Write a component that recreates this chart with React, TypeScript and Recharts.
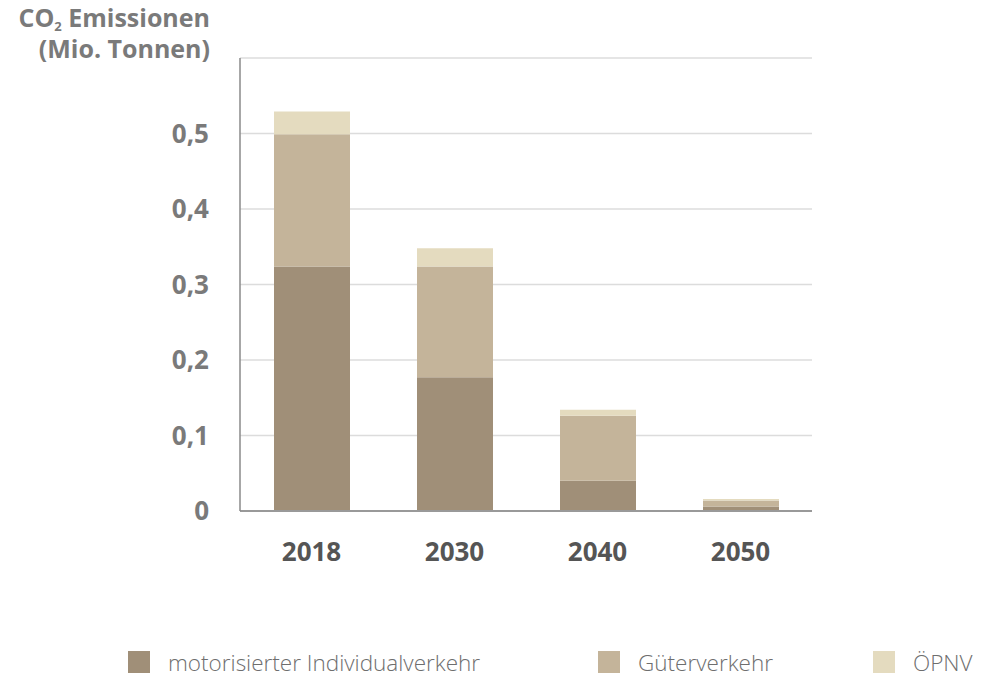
import React from "react";
import { Bar, BarChart, CartesianGrid, XAxis, YAxis } from "recharts";

const years = ["2018", "2030", "2040", "2050"];
const individualverkehr = [0.324, 0.177, 0.040, 0.006];
const gueterverkehr = [0.175, 0.147, 0.086, 0.008];
const oepnv = [0.030, 0.024, 0.008, 0.002];
const yTicks = [0, 0.1, 0.2, 0.3, 0.4, 0.5];

const series = [
  { key: "miv", name: "motorisierter Individualverkehr", color: "#a08f78" },
  { key: "gueter", name: "Güterverkehr", color: "#c4b49a" },
  { key: "oepnv", name: "ÖPNV", color: "#e4dbbf" },
];

const data = years.map((year, i) => ({
  year,
  miv: individualverkehr[i],
  gueter: gueterverkehr[i],
  oepnv: oepnv[i],
}));

const FONT = "'Open Sans', sans-serif";
const legendLefts = [128, 598, 873];

const formatTick = (v: number) => (v === 0 ? "0" : v.toFixed(1).replace(".", ","));

const CustomLegend = () => (
  <div style={{ position: "absolute", left: 0, top: 651, width: 981, height: 24, fontFamily: FONT }}>
    {series.map((s, i) => (
      <div
        key={s.key}
        style={{
          position: "absolute",
          left: legendLefts[i],
          top: 0,
          height: 22,
          display: "flex",
          alignItems: "center",
          whiteSpace: "nowrap",
        }}
      >
        <span style={{ display: "inline-block", width: 22, height: 22, background: s.color }} />
        <span style={{ marginLeft: 18, fontSize: 22.5, color: "#6e6e6e", fontWeight: 300 }}>{s.name}</span>
      </div>
    ))}
  </div>
);

export default function App() {
  return (
    <div style={{ position: "absolute", left: 0, top: 0, width: 981, height: 677, background: "#fff" }}>
      <div
        style={{
          position: "absolute",
          right: 981 - 210,
          top: 2,
          textAlign: "right",
          fontFamily: FONT,
          fontWeight: 700,
          fontSize: 25,
          lineHeight: "31px",
          color: "#7a7a7a",
          whiteSpace: "nowrap",
        }}
      >
        <div>
          CO<sub style={{ fontSize: 13, verticalAlign: "-4px", lineHeight: 0 }}>2</sub> Emissionen
        </div>
        <div>(Mio. Tonnen)</div>
      </div>
      <BarChart
        width={981}
        height={677}
        data={data}
        margin={{ top: 58, right: 169, bottom: 136, left: 0 }}
        barSize={76}
      >
        <CartesianGrid vertical={false} stroke="#dcdcdc" strokeWidth={1.5} />
        <XAxis
          dataKey="year"
          height={30}
          axisLine={{ stroke: "#999", strokeWidth: 2 }}
          tickLine={false}
          tickSize={0}
          tickMargin={32}
          tick={{ fill: "#555", fontSize: 26, fontWeight: 700, fontFamily: FONT }}
        />
        <YAxis
          width={240}
          domain={[0, 0.6]}
          ticks={yTicks}
          tickFormatter={formatTick}
          axisLine={{ stroke: "#8a8a8a", strokeWidth: 1.5 }}
          tickLine={false}
          tickSize={0}
          tickMargin={31}
          tick={{ fill: "#7a7a7a", fontSize: 26, fontWeight: 700, fontFamily: FONT }}
        />
        {series.map((s) => (
          <Bar key={s.key} dataKey={s.key} name={s.name} stackId="a" fill={s.color} isAnimationActive={false} />
        ))}
      </BarChart>
      <CustomLegend />
    </div>
  );
}
